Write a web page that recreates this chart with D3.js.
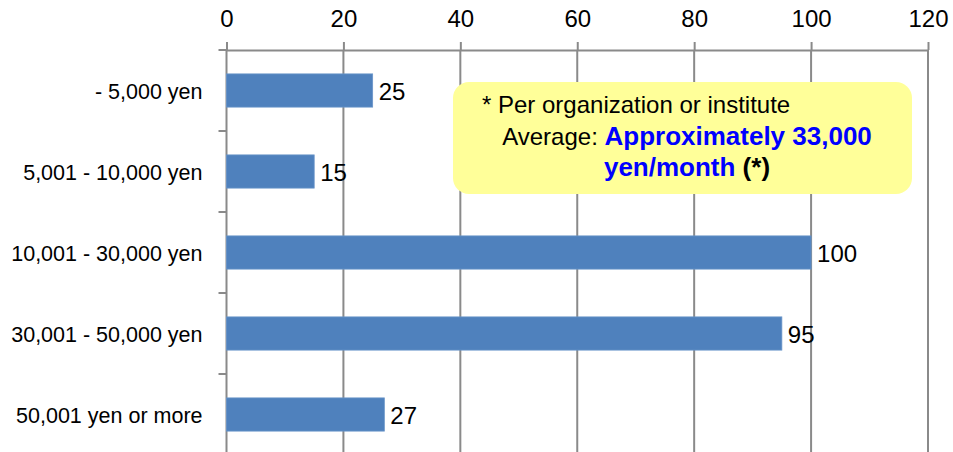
<!DOCTYPE html>
<html>
<head>
<meta charset="utf-8">
<script src="https://cdn.jsdelivr.net/npm/d3@7"></script>
<style>
  body { margin: 0; background: #fff; }
  svg { font-family: "Liberation Sans", Arial, sans-serif; display: block; }
</style>
</head>
<body>
<div class="bar-chart"></div>
<script>
const categories = [
  '- 5,000 yen',
  '5,001 - 10,000 yen',
  '10,001 - 30,000 yen',
  '30,001 - 50,000 yen',
  '50,001 yen or more',
];
const counts = [25, 15, 100, 95, 27];
const xTicks = [0, 20, 40, 60, 80, 100, 120];

const noteLine1 = '* Per organization or institute';
const noteLabel = 'Average: ';
const noteValue = 'Approximately 33,000';
const noteUnit = 'yen/month';
const noteMark = ' (*)';

const containerWidth = 953;
const containerHeight = 452;
const margin = { top: 50, right: 25, bottom: -3, left: 226.5 };
const graphWidth = containerWidth - margin.left - margin.right;
const graphHeight = containerHeight - margin.top - margin.bottom;

const gridColor = '#8a8a8a';

const svg = d3
  .select('.bar-chart')
  .append('svg')
  .attr('width', containerWidth)
  .attr('height', containerHeight);

const graph = svg
  .append('g')
  .attr('transform', `translate(${margin.left}, ${margin.top})`);

const x = d3.scaleLinear().domain([0, 120]).range([0, graphWidth]);
const y = d3.scaleBand().domain(categories).range([0, graphHeight]);

// vertical gridlines
graph
  .selectAll('line.grid')
  .data(xTicks)
  .enter()
  .append('line')
  .attr('class', 'grid')
  .attr('x1', (d) => x(d))
  .attr('x2', (d) => x(d))
  .attr('y1', 0)
  .attr('y2', graphHeight)
  .attr('stroke', gridColor)
  .attr('stroke-width', 2);

// top value axis
const xAxis = d3.axisTop(x).tickValues(xTicks).tickSize(8).tickSizeOuter(0).tickPadding(15);
const xAxisGroup = graph.append('g').call(xAxis);
xAxisGroup.selectAll('path, line').attr('stroke', gridColor).attr('stroke-width', 2);
xAxisGroup
  .selectAll('text')
  .attr('fill', '#000')
  .style('font-size', '24px');

// left category axis, ticks sit between categories
const yAxis = d3.axisLeft(y).tickSize(0).tickPadding(24);
const yAxisGroup = graph.append('g').call(yAxis);
yAxisGroup.select('.domain').remove();
yAxisGroup
  .selectAll('text')
  .attr('fill', '#000')
  .attr('dy', '0.38em')
  .style('font-size', '21.5px');

graph
  .selectAll('line.cat-tick')
  .data(d3.range(categories.length + 1))
  .enter()
  .append('line')
  .attr('class', 'cat-tick')
  .attr('x1', -8)
  .attr('x2', 0)
  .attr('y1', (i) => i * y.step())
  .attr('y2', (i) => i * y.step())
  .attr('stroke', gridColor)
  .attr('stroke-width', 2);

// bars
const barHeight = y.bandwidth() * 0.41;
graph
  .selectAll('rect.bar')
  .data(counts)
  .enter()
  .append('rect')
  .attr('class', 'bar')
  .attr('x', x(0))
  .attr('y', (d, i) => y(categories[i]) + (y.bandwidth() - barHeight) / 2)
  .attr('width', (d) => x(d) - x(0))
  .attr('height', barHeight)
  .attr('fill', '#4f81bd')
  .attr('stroke', '#6a95c9')
  .attr('stroke-width', 0.8);

graph
  .selectAll('text.value')
  .data(counts)
  .enter()
  .append('text')
  .attr('class', 'value')
  .attr('x', (d) => x(d) + 6)
  .attr('y', (d, i) => y(categories[i]) + y.bandwidth() / 2)
  .attr('dy', '0.38em')
  .style('font-size', '24px')
  .attr('fill', '#000')
  .text((d) => d);

// note box
const note = svg.append('g');
note
  .append('rect')
  .attr('x', 453)
  .attr('y', 82)
  .attr('width', 459)
  .attr('height', 112)
  .attr('rx', 16)
  .attr('fill', '#ffff99');

note
  .append('text')
  .attr('x', 482)
  .attr('y', 113)
  .style('font-size', '24px')
  .attr('fill', '#000')
  .text(noteLine1);

const line2 = note
  .append('text')
  .attr('x', 687)
  .attr('y', 145)
  .attr('text-anchor', 'middle')
  .style('font-size', '24px')
  .attr('fill', '#000');
line2.append('tspan').text(noteLabel);
line2
  .append('tspan')
  .attr('font-weight', 'bold')
  .attr('fill', '#0000ff')
  .style('font-size', '26px')
  .text(noteValue);

const line3 = note
  .append('text')
  .attr('x', 687)
  .attr('y', 176)
  .attr('text-anchor', 'middle')
  .attr('font-weight', 'bold')
  .style('font-size', '26px');
line3.append('tspan').attr('fill', '#0000ff').text(noteUnit);
line3.append('tspan').attr('fill', '#000').text(noteMark);
</script>
</body>
</html>
